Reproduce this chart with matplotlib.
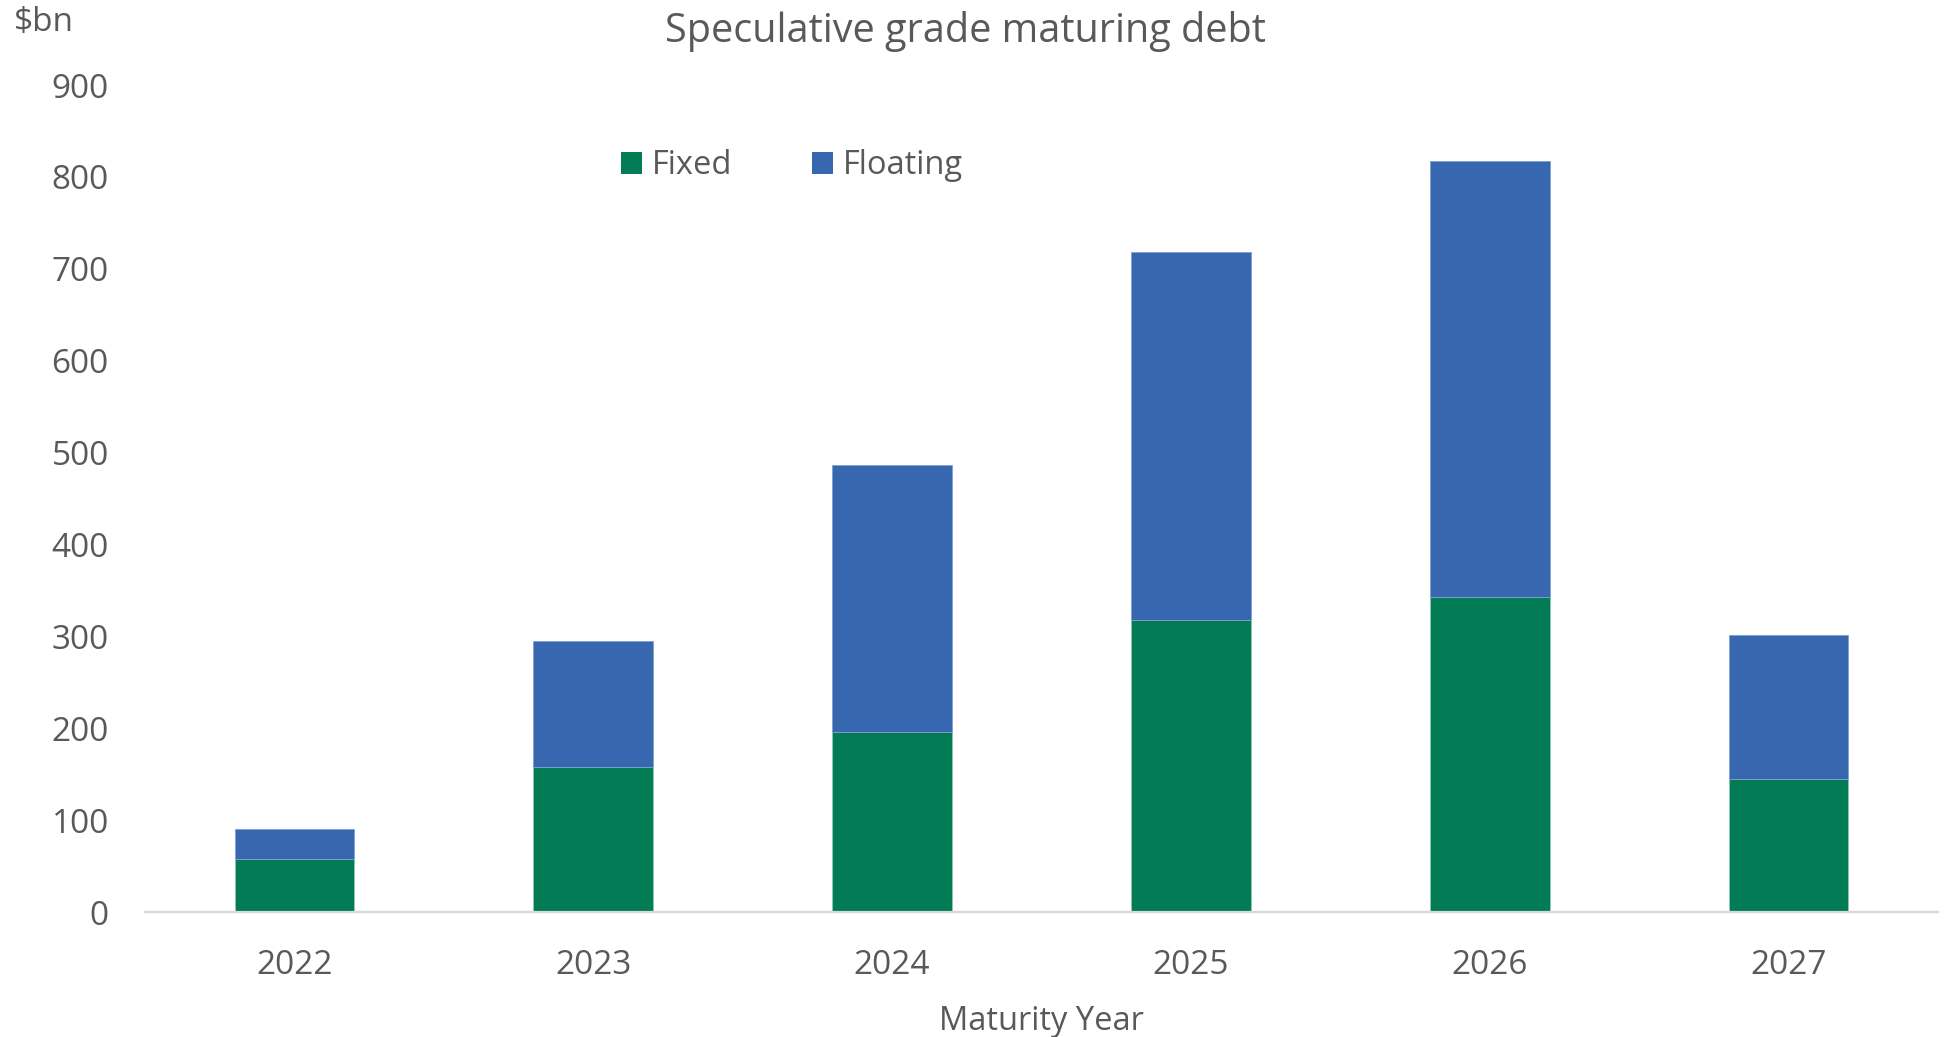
import matplotlib
matplotlib.use("Agg")
import matplotlib.pyplot as plt
import numpy as np
from matplotlib.patches import Patch

# Speculative grade maturing debt, $bn, by maturity year
years = ["2022", "2023", "2024", "2025", "2026", "2027"]
fixed = [58, 158, 196, 318, 343, 145]
floating = [32, 137, 291, 400, 474, 156]
yticks = [0, 100, 200, 300, 400, 500, 600, 700, 800, 900]

GREEN = "#037B54"
BLUE = "#3767AF"
TEXT = "#595959"

plt.rcParams["font.family"] = ["Open Sans", "DejaVu Sans"]

fig = plt.figure(figsize=(19.46, 10.37), dpi=100)
ax = fig.add_axes([0.0745, 0.1205, 0.9214, 0.7975])

x = np.arange(len(years))
ax.bar(x, fixed, width=0.4, color=GREEN, edgecolor="#8cc9b3", linewidth=0.6, zorder=2)
ax.bar(x, floating, width=0.4, bottom=fixed, color=BLUE, edgecolor="#7e9fd6",
       linewidth=0.6, zorder=2)

ax.set_xlim(-0.5, len(years) - 0.5)
ax.set_ylim(0, 900)
ax.set_xticks(x)
ax.set_xticklabels(years)
ax.set_yticks(yticks)
ax.set_yticklabels([str(v) for v in yticks])
ax.tick_params(axis="both", length=0, labelsize=24, colors=TEXT)
ax.tick_params(axis="x", pad=26.5)
ax.tick_params(axis="y", pad=26)

for side in ["top", "right", "left"]:
    ax.spines[side].set_visible(False)
ax.spines["bottom"].set_color("#D9D9D9")
ax.spines["bottom"].set_linewidth(1.6)
ax.spines["bottom"].set_zorder(3)

ax.set_xlabel("Maturity Year", fontsize=23.5, color=TEXT, labelpad=17)

fig.text(0.496, 0.970, "Speculative grade maturing debt", fontsize=28.5,
         color=TEXT, ha="center", va="center")
fig.text(0.007, 0.978, "$bn", fontsize=24, color=TEXT, ha="left", va="center")

handles = [Patch(facecolor=GREEN, edgecolor="none", label="Fixed"),
           Patch(facecolor=BLUE, edgecolor="none", label="Floating")]
fig.legend(handles=handles, loc="center left", bbox_to_anchor=(0.319, 0.840),
           ncol=2, frameon=False, fontsize=23.5, labelcolor=TEXT,
           handlelength=0.65, handleheight=0.65, handletextpad=0.3,
           columnspacing=2.45, borderpad=0, borderaxespad=0)

fig.savefig("out.png", dpi=100)
